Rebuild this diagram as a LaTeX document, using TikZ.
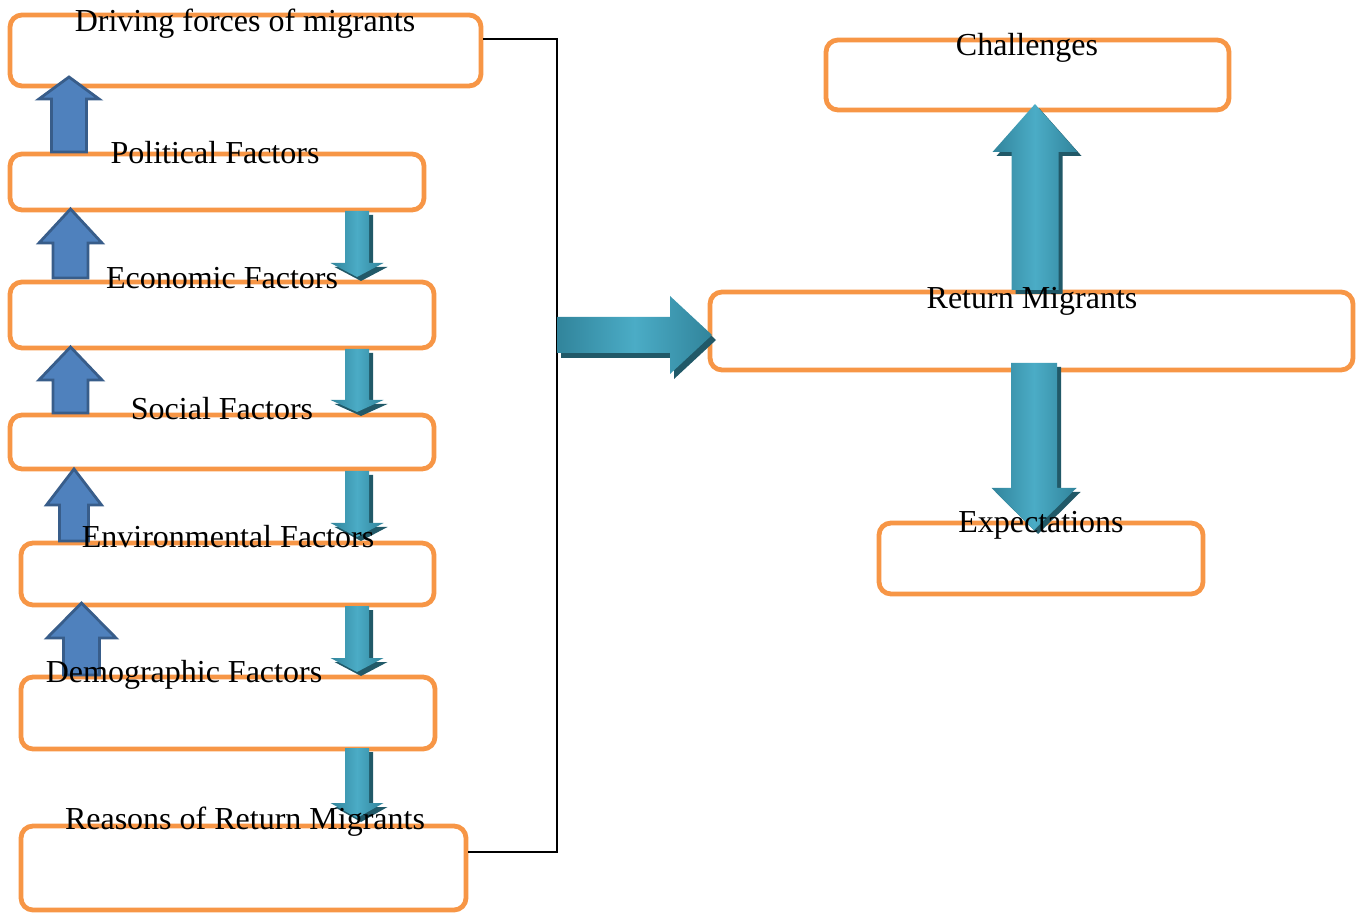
\documentclass[tikz,border=0pt]{standalone}
\usepackage{fontspec}
\setmainfont{Liberation Serif}
\definecolor{boxorange}{HTML}{F79646}
\definecolor{bluefill}{HTML}{4F81BD}
\definecolor{blueline}{HTML}{385D8A}
\definecolor{teallight}{HTML}{4BACC6}
\definecolor{tealdark}{HTML}{31849B}
\definecolor{tealshadow}{HTML}{215968}
\newcommand\pxu{0.5pt}
% vertical block arrow: style, xc, y-start, y-headbase, y-tip, shaft half width, head half width
\newcommand\varr[7]{%
  \path[#1] ({#2-#6},#3) -- ({#2-#6},#4) -- ({#2-#7},#4) -- (#2,#5) -- ({#2+#7},#4) -- ({#2+#6},#4) -- ({#2+#6},#3) -- cycle;}
% horizontal block arrow: style, yc, x-start, x-headbase, x-tip, shaft half width, head half width
\newcommand\harr[7]{%
  \path[#1] (#3,{#2-#6}) -- (#4,{#2-#6}) -- (#4,{#2-#7}) -- (#5,#2) -- (#4,{#2+#7}) -- (#4,{#2+#6}) -- (#3,{#2+#6}) -- cycle;}
\tikzset{
  box/.style={draw=boxorange, line width=2.4pt, rounded corners=6pt, inner sep=0pt, fill=white},
  lbl/.style={anchor=base, inner sep=0pt, font=\fontsize{16}{19}\selectfont},
  conn/.style={draw=black, line width=0.75pt},
  bluearr/.style={fill=bluefill, draw=blueline, line width=1.4pt, line join=miter},
  tealarr/.style={left color=tealdark, right color=tealdark, middle color=teallight},
  tealshd/.style={fill=tealshadow}
}
\begin{document}
\begin{tikzpicture}[x=0.5pt, y=-0.5pt]
\useasboundingbox (0,0) rectangle (1358,913);
% boxes
\node[box, minimum width=471*\pxu, minimum height=71*\pxu] (driving) at (245.5,50.5) {};
\node[box, minimum width=414*\pxu, minimum height=56*\pxu] (political) at (217,182) {};
\node[box, minimum width=424*\pxu, minimum height=66*\pxu] (economic) at (222,315) {};
\node[box, minimum width=424*\pxu, minimum height=54*\pxu] (social) at (222,442) {};
\node[box, minimum width=413*\pxu, minimum height=62*\pxu] (environ) at (227.5,574) {};
\node[box, minimum width=414*\pxu, minimum height=72*\pxu] (demo) at (228,713) {};
\node[box, minimum width=445*\pxu, minimum height=84*\pxu] (reasons) at (243.5,868) {};
\node[box, minimum width=403*\pxu, minimum height=70*\pxu] (challenges) at (1027.5,75) {};
\node[box, minimum width=643*\pxu, minimum height=78*\pxu] (return) at (1031.5,331) {};
\node[box, minimum width=324*\pxu, minimum height=71*\pxu] (expect) at (1041,558.5) {};
% bracket connector
\coordinate (j1) at (557,39);
\coordinate (j2) at (557,852);
\draw[conn] (driving.east |- j1) -- (j1) -- (j2) -- (reasons.east |- j2);
% blue up arrows
\varr{bluearr}{69}{152}{99}{77}{17.5}{30}
\varr{bluearr}{70.5}{278}{243}{209}{17.5}{31.5}
\varr{bluearr}{70.5}{413}{380}{347}{17.5}{31.5}
\varr{bluearr}{74}{541}{505}{469}{14.5}{27.5}
\varr{bluearr}{81.5}{675}{638}{603}{18}{34.5}
% teal down arrows (left column)
\varr{tealshd, shift={(4,4)}}{357}{211}{263}{277}{12}{26.5}
\varr{tealarr}{357}{211}{263}{277}{12}{26.5}
\varr{tealshd, shift={(4,4)}}{357}{349}{400}{412}{12}{26.5}
\varr{tealarr}{357}{349}{400}{412}{12}{26.5}
\varr{tealshd, shift={(4,4)}}{357}{471}{523}{537}{12}{26.5}
\varr{tealarr}{357}{471}{523}{537}{12}{26.5}
\varr{tealshd, shift={(4,4)}}{357}{606}{658}{672}{12}{26.5}
\varr{tealarr}{357}{606}{658}{672}{12}{26.5}
\varr{tealshd, shift={(4,4)}}{357}{748}{803}{818}{12}{26.5}
\varr{tealarr}{357}{748}{803}{818}{12}{26.5}
% horizontal arrow
\harr{tealshd, shift={(4,5)}}{335}{557}{670}{712}{18}{39}
\harr{tealarr}{335}{557}{670}{712}{18}{39}
% right column arrows
\varr{tealshd, shift={(4,4)}}{1035}{290}{152}{104}{23.5}{42.5}
\varr{tealarr}{1035}{290}{152}{104}{23.5}{42.5}
\varr{tealshd, shift={(4,4)}}{1034}{363}{488}{530}{23}{42.5}
\varr{tealarr}{1034}{363}{488}{530}{23}{42.5}
% labels
\node[lbl] (tdriving) at (245,32) {Driving forces of migrants};
\node[lbl] (tpolitical) at (215,164) {Political Factors};
\node[lbl] (teconomic) at (222,289) {Economic Factors};
\node[lbl] (tsocial) at (222,420) {Social Factors};
\node[lbl] (tenviron) at (228,547) {Environmental Factors};
\node[lbl] (tdemo) at (184,682) {Demographic Factors};
\node[lbl] (treasons) at (245,829) {Reasons of Return Migrants};
\node[lbl] (tchallenges) at (1027,56) {Challenges};
\node[lbl] (treturn) at (1032,309) {Return Migrants};
\node[lbl] (texpect) at (1041,532) {Expectations};
\end{tikzpicture}
\end{document}
